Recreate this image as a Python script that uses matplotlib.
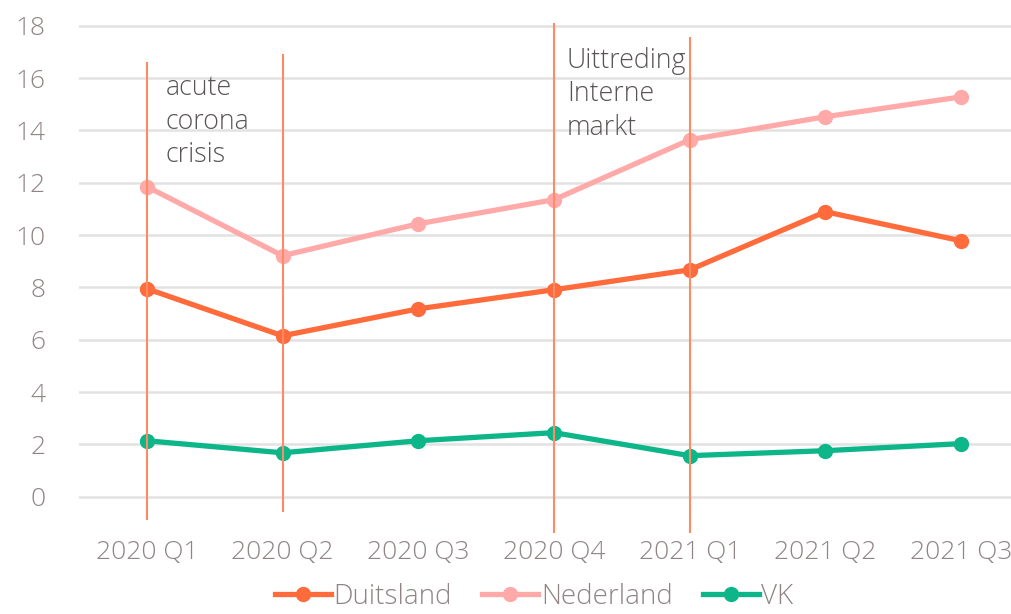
import matplotlib.pyplot as plt

# quarters and series
quarters = ['2020 Q1', '2020 Q2', '2020 Q3', '2020 Q4', '2021 Q1', '2021 Q2', '2021 Q3']
duitsland = [7.95, 6.15, 7.18, 7.91, 8.67, 10.89, 9.78]
nederland = [11.85, 9.21, 10.43, 11.35, 13.64, 14.52, 15.28]
vk = [2.14, 1.68, 2.14, 2.45, 1.57, 1.76, 2.03]

# event markers: x index, y from, y to
event_x = [0, 1, 3, 4]
event_ylo = [-0.9, -0.6, -1.4, -1.4]
event_yhi = [16.6, 16.9, 18.1, 17.55]
labels = [(0.14, 16.15, 'acute\ncorona\ncrisis'), (3.095, 17.2, 'Uittreding\nInterne\nmarkt')]

plt.rcParams['font.family'] = ['Open Sans', 'DejaVu Sans']
tick_col = '#8f8585'

fig = plt.figure(figsize=(10.12, 6.14), dpi=100)
ax = fig.add_axes([0.078, 0.127, 0.922, 0.844])

x = range(len(quarters))
ax.plot(x, duitsland, color='#ff6b3b', lw=3.8, marker='o', ms=10, label='Duitsland', zorder=3)
ax.plot(x, nederland, color='#ffaaa9', lw=3.8, marker='o', ms=10, label='Nederland', zorder=3)
ax.plot(x, vk, color='#0db688', lw=3.8, marker='o', ms=10, label='VK', zorder=3)

ax.vlines(event_x, event_ylo, event_yhi, color='#ff8a66', lw=1.5, zorder=4)
for xi, yi, txt in labels:
    ax.text(xi, yi, txt, fontsize=19.3, fontweight='light',
            color='#5a5555', va='top', ha='left', linespacing=1.26)

ax.set_xlim(-0.5, 6.375)
ax.set_ylim(-1.5, 18.3)
ax.set_yticks(range(0, 19, 2))
ax.set_xticks(list(x))
ax.set_xticklabels(quarters)
ax.yaxis.grid(True, color='#e2e2e2', lw=1.8)
ax.set_axisbelow(True)
for s in ax.spines.values():
    s.set_visible(False)
ax.tick_params(length=0, labelsize=19, labelcolor=tick_col, pad=3)
ax.tick_params(axis='y', pad=24)
for lab in ax.get_xticklabels() + ax.get_yticklabels():
    lab.set_fontweight('light')

leg = fig.legend(loc='lower center', bbox_to_anchor=(0.528, -0.036), ncol=3, frameon=False,
                 fontsize=20, handlelength=2.0, handletextpad=0.1, columnspacing=1.1)
for t in leg.get_texts():
    t.set_color(tick_col)
    t.set_fontweight('light')

fig.savefig('out.png', dpi=100)
